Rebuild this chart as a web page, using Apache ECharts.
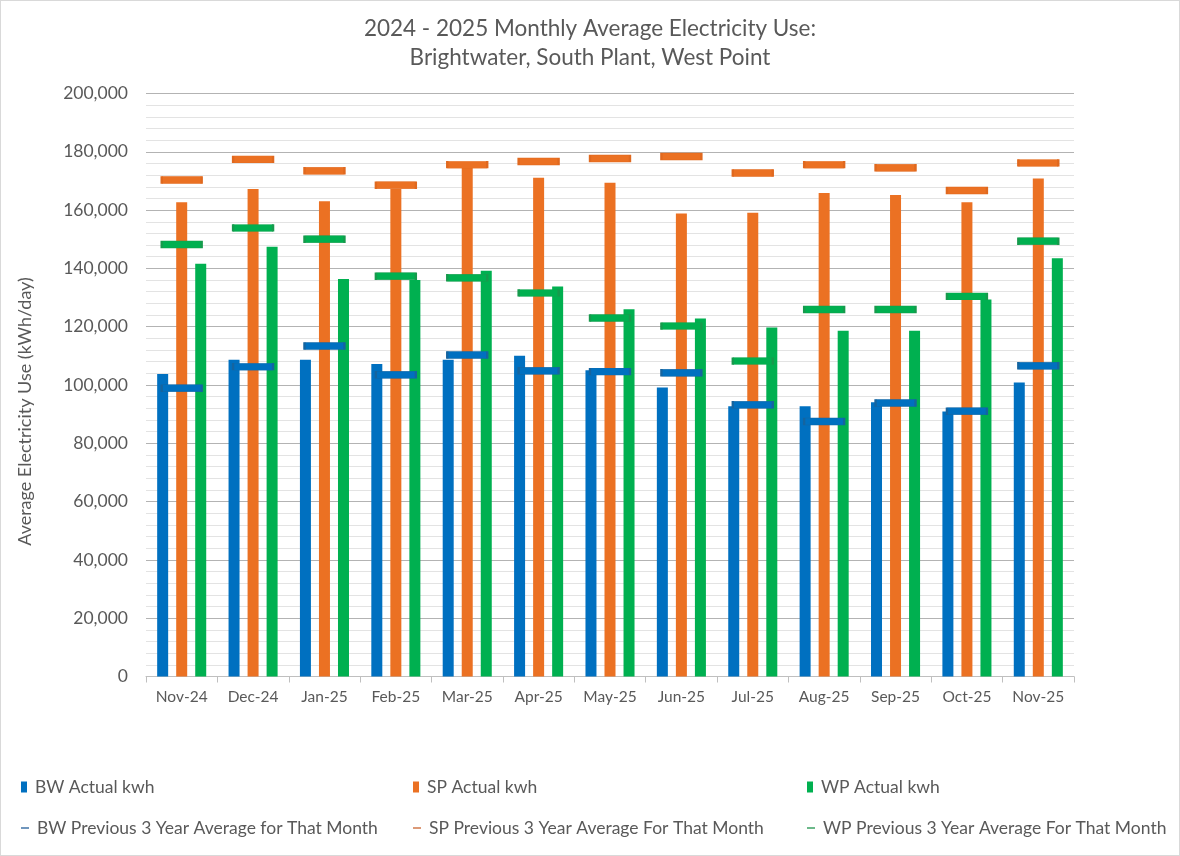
<!DOCTYPE html>
<html>
<head>
<meta charset="utf-8">
<script src="https://cdn.jsdelivr.net/npm/echarts@6/dist/echarts.min.js"></script>
<style>
html,body{margin:0;padding:0;background:#fff;}
#chart{width:1180px;height:856px;box-sizing:border-box;border:1px solid #d9d9d9;}
</style>
</head>
<body>
<div id="chart"></div>
<script>
const categories = ['Nov-24','Dec-24','Jan-25','Feb-25','Mar-25','Apr-25','May-25','Jun-25','Jul-25','Aug-25','Sep-25','Oct-25','Nov-25'];
const bwActual = [103800,108700,108700,107200,108700,110000,105100,99100,92700,92700,94100,90900,100900];
const spActual = [162700,167200,163000,167200,174500,171100,169400,158800,159100,165900,165200,162700,170800];
const wpActual = [141600,147400,136400,136000,139200,133800,126000,122800,119700,118600,118600,129300,143500];
const bwAvg = [98900,106300,113400,103500,110300,104900,104600,104200,93200,87500,93800,91000,106600];
const spAvg = [170300,177400,173500,168500,175600,176700,177700,178400,172700,175600,174500,166700,176200];
const wpAvg = [148200,153900,150000,137300,136800,131600,123000,120200,108200,125900,125900,130400,149300];
const yTicks = {min:0, max:200000, interval:20000};

const FONT = 'Lato';
const TXT = '#595959';
const names = {
  bwA:'BW Actual kwh', spA:'SP Actual kwh', wpA:'WP Actual kwh',
  bwP:'BW Previous 3 Year Average for That Month',
  spP:'SP Previous 3 Year Average For That Month',
  wpP:'WP Previous 3 Year Average For That Month'
};
const C = {bw:'#0070c0', sp:'#eb7123', wp:'#00b050'};
const CB = {bw:'#15649f', sp:'#e0691f', wp:'#179a4d'};

function barSeries(name, data, color){
  return {name, type:'bar', data, barWidth:11, barGap:'73%', z:2,
    itemStyle:{color}};
}
function avgSeries(name, data, color, border){
  return {name, type:'scatter', data, symbol:'rect', symbolSize:[40,7], z:5,
    itemStyle:{color, borderColor:border, borderWidth:1, opacity:1},
    emphasis:{disabled:true}};
}
function legend(name, left, top, icon, w, h, color){
  return {data:[{name, icon, itemStyle:{color, borderWidth:0}}], left, top, padding:0,
    itemWidth:w, itemHeight:h, selectedMode:false,
    textStyle:{fontFamily:FONT, fontSize:17.5, color:TXT, lineHeight:20, padding:[0,0,0,3]}};
}

const chart = echarts.init(document.getElementById('chart'));
chart.setOption({
  animation:false,
  title:{text:'2024 - 2025 Monthly Average Electricity Use:\nBrightwater, South Plant, West Point',
    left:'center', top:8,
    textStyle:{fontFamily:FONT, fontSize:22.5, fontWeight:'normal', color:TXT, lineHeight:29}},
  legend:[
    legend(names.bwA, 20, 776, 'rect', 6, 11, C.bw),
    legend(names.spA, 412, 776, 'rect', 6, 11, C.sp),
    legend(names.wpA, 806, 776, 'rect', 6, 11, C.wp),
    legend(names.bwP, 20, 817, 'rect', 8, 2, '#7096bd'),
    legend(names.spP, 412, 817, 'rect', 8, 2, '#dc9a78'),
    legend(names.wpP, 806, 817, 'rect', 8, 2, '#6cb98a')
  ],
  grid:{left:145, right:105, top:92.5, bottom:178.5, containLabel:false},
  xAxis:{type:'category', data:categories, boundaryGap:true,
    axisLine:{lineStyle:{color:'#bfbfbf', width:1}},
    axisTick:{show:true, length:6, lineStyle:{color:'#bfbfbf'}},
    axisLabel:{fontFamily:FONT, fontSize:15.5, color:TXT, margin:12}},
  yAxis:{type:'value', min:yTicks.min, max:yTicks.max, interval:yTicks.interval,
    name:'Average Electricity Use (kWh/day)', nameLocation:'middle', nameGap:112,
    nameTextStyle:{fontFamily:FONT, fontSize:18, color:TXT, padding:[0,53,0,0]},
    axisLine:{show:false}, axisTick:{show:false},
    axisLabel:{fontFamily:FONT, fontSize:17.5, color:TXT, margin:18,
      formatter:v=>v.toLocaleString('en-US')},
    splitLine:{lineStyle:{color:'#b3b3b3', width:1}},
    minorTick:{show:false, splitNumber:5},
    minorSplitLine:{show:true, lineStyle:{color:'#e3e3e3', width:1}}},
  series:[
    barSeries(names.bwA, bwActual, C.bw),
    barSeries(names.spA, spActual, C.sp),
    barSeries(names.wpA, wpActual, C.wp),
    avgSeries(names.bwP, bwAvg, C.bw, CB.bw),
    avgSeries(names.spP, spAvg, C.sp, CB.sp),
    avgSeries(names.wpP, wpAvg, C.wp, CB.wp)
  ]
});
</script>
</body>
</html>
